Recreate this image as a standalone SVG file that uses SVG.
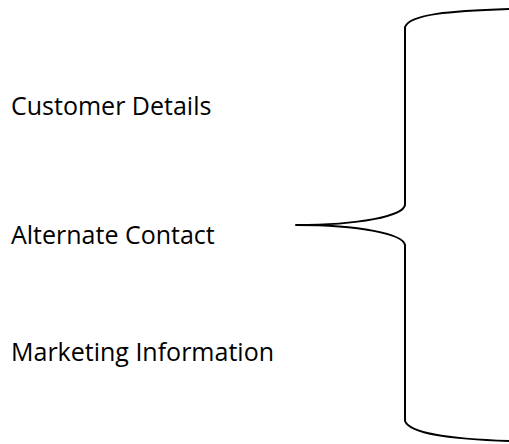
<svg xmlns="http://www.w3.org/2000/svg" width="509" height="444" viewBox="0 0 509 444">
<style>
.lbl{font-family:"Open Sans","Liberation Sans",sans-serif;font-size:25px;fill:#000}
.br{fill:none;stroke:#000;stroke-width:2;stroke-linejoin:round}
</style>
<rect width="509" height="444" fill="#fff"/>
<g id="customer-details"><text class="lbl" x="11" y="115">Customer Details</text></g>
<g id="alternate-contact"><text class="lbl" x="11" y="244">Alternate Contact</text></g>
<g id="marketing-information"><text class="lbl" x="11" y="361">Marketing Information</text></g>
<g id="connectors">
<path class="br" d="M 509 9 C 450 11, 410 14, 405 27 L 405 205 C 403 216, 360 225, 296 225 C 360 225, 403 234, 405 245 L 405 421 C 410 434, 450 439, 509 441"/>
</g>
</svg>
